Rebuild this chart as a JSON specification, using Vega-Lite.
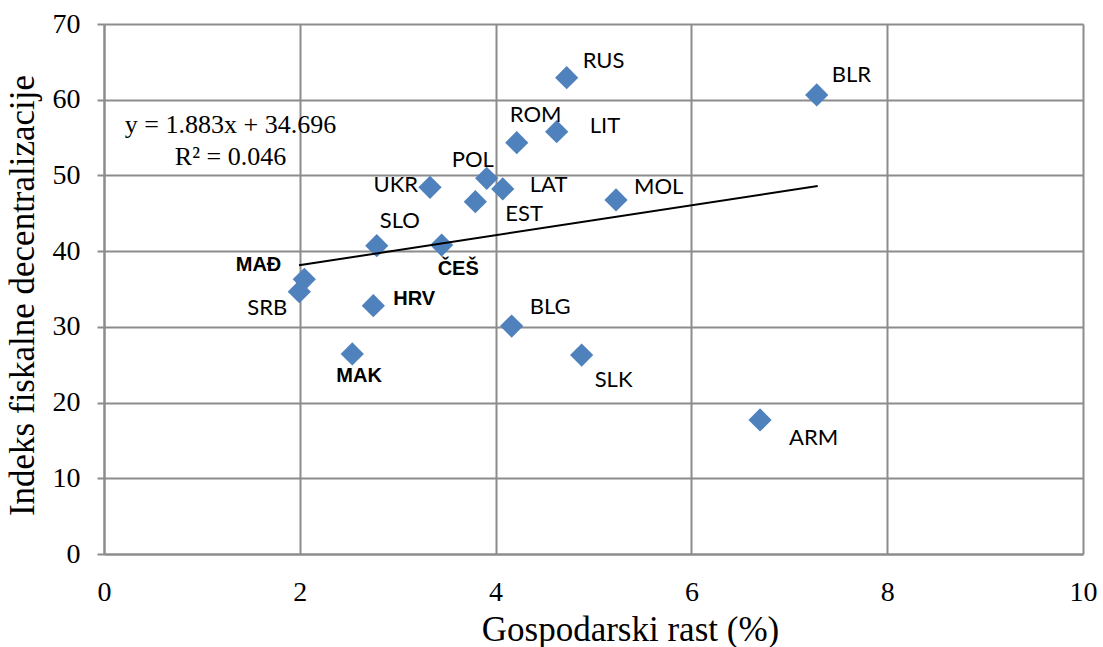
{
  "$schema": "https://vega.github.io/schema/vega-lite/v6.json",
  "autosize": {"type": "none"},
  "width": 979,
  "height": 530,
  "padding": {"left": 104, "top": 24, "right": 20, "bottom": 93},
  "background": "white",
  "config": {"view": {"stroke": null}},
  "datasets": {
    "pts": [
      {"c": "RUS", "x": 4.726, "y": 62.91},
      {"c": "BLR", "x": 7.28, "y": 60.63},
      {"c": "ROM", "x": 4.216, "y": 54.33},
      {"c": "LIT", "x": 4.624, "y": 55.78},
      {"c": "POL", "x": 3.909, "y": 49.62},
      {"c": "UKR", "x": 3.33, "y": 48.43},
      {"c": "LAT", "x": 4.073, "y": 48.21},
      {"c": "EST", "x": 3.793, "y": 46.53},
      {"c": "MOL", "x": 5.23, "y": 46.76},
      {"c": "SLO", "x": 2.786, "y": 40.72},
      {"c": "ČEŠ", "x": 3.449, "y": 40.81},
      {"c": "MAĐ", "x": 2.046, "y": 36.28},
      {"c": "SRB", "x": 1.995, "y": 34.65},
      {"c": "HRV", "x": 2.751, "y": 32.8},
      {"c": "BLG", "x": 4.164, "y": 30.11},
      {"c": "MAK", "x": 2.536, "y": 26.42},
      {"c": "SLK", "x": 4.879, "y": 26.28},
      {"c": "ARM", "x": 6.701, "y": 17.7}
    ],
    "trend": [
      {"x": 1.992, "y": 38.13},
      {"x": 7.29, "y": 48.61}
    ],
    "eq": [
      {"x": 1.292, "y": 55.57, "t": "y = 1.883x + 34.696"},
      {"x": 1.292, "y": 51.38, "t": "R² = 0.046"}
    ]
  },
  "encoding": {
    "x": {
      "field": "x", "type": "quantitative",
      "scale": {"domain": [0, 10], "nice": false, "zero": false},
      "axis": {
        "title": "Gospodarski rast (%)",
        "values": [0, 2, 4, 6, 8, 10],
        "grid": true, "gridColor": "#8c8c8c", "gridWidth": 2, "gridOpacity": 1,
        "domain": true, "domainColor": "#8c8c8c", "domainWidth": 2,
        "ticks": false, "tickSize": 0,
        "labelFont": "Liberation Serif", "labelFontSize": 28, "labelColor": "black",
        "labelPadding": 24, "labelBaseline": "top", "labelFlush": false,
        "titleFont": "Liberation Serif", "titleFontSize": 35, "titleFontWeight": "normal", "titleColor": "black",
        "titleX": 526, "titleY": 86, "titleBaseline": "alphabetic", "titleAlign": "center"
      }
    },
    "y": {
      "field": "y", "type": "quantitative",
      "scale": {"domain": [0, 70], "nice": false, "zero": false},
      "axis": {
        "title": "Indeks fiskalne decentralizacije",
        "values": [0, 10, 20, 30, 40, 50, 60, 70],
        "grid": true, "gridColor": "#8c8c8c", "gridWidth": 2, "gridOpacity": 1,
        "domain": true, "domainColor": "#8c8c8c", "domainWidth": 2,
        "ticks": true, "tickSize": 7, "tickColor": "#8c8c8c", "tickWidth": 2,
        "labelFont": "Liberation Serif", "labelFontSize": 28, "labelColor": "black",
        "labelPadding": 17, "labelAlign": "right", "labelBaseline": "middle", "labelFlush": false,
        "titleFont": "Liberation Serif", "titleFontSize": 35, "titleFontWeight": "normal", "titleColor": "black",
        "titleX": -71, "titleY": 271, "titleAngle": -90, "titleAlign": "center", "titleBaseline": "alphabetic"
      }
    }
  },
  "layer": [
    {
      "data": {"name": "pts"},
      "mark": {"type": "point", "shape": "diamond", "filled": true, "size": 540, "color": "#4F81BD", "opacity": 1}
    },
    {
      "data": {"name": "trend"},
      "mark": {"type": "line", "color": "black", "strokeWidth": 2}
    },
    {
      "data": {"name": "eq"},
      "mark": {"type": "text", "font": "Liberation Serif", "fontSize": 26, "align": "center", "baseline": "alphabetic", "color": "black"},
      "encoding": {"text": {"field": "t"}}
    },
    {
      "data": {"name": "pts"},
      "encoding": {"text": {"field": "c"}},
      "layer": [
        {"transform": [{"filter": "datum.c === 'RUS'"}], "mark": {"type": "text", "font": "Lato", "fontSize": 22, "align": "left", "baseline": "middle", "dx": 16, "dy": -17, "color": "black"}},
        {"transform": [{"filter": "datum.c === 'BLR'"}], "mark": {"type": "text", "font": "Lato", "fontSize": 22, "align": "left", "baseline": "middle", "dx": 15, "dy": -20, "color": "black"}},
        {"transform": [{"filter": "datum.c === 'ROM'"}], "mark": {"type": "text", "font": "Lato", "fontSize": 22, "align": "left", "baseline": "middle", "dx": -7, "dy": -28, "color": "black"}},
        {"transform": [{"filter": "datum.c === 'LIT'"}], "mark": {"type": "text", "font": "Lato", "fontSize": 22, "align": "left", "baseline": "middle", "dx": 33, "dy": -6, "color": "black"}},
        {"transform": [{"filter": "datum.c === 'POL'"}], "mark": {"type": "text", "font": "Lato", "fontSize": 22, "align": "left", "baseline": "middle", "dx": -35, "dy": -18, "color": "black"}},
        {"transform": [{"filter": "datum.c === 'UKR'"}], "mark": {"type": "text", "font": "Lato", "fontSize": 22, "align": "right", "baseline": "middle", "dx": -12, "dy": -2, "color": "black"}},
        {"transform": [{"filter": "datum.c === 'LAT'"}], "mark": {"type": "text", "font": "Lato", "fontSize": 22, "align": "left", "baseline": "middle", "dx": 27, "dy": -4, "color": "black"}},
        {"transform": [{"filter": "datum.c === 'EST'"}], "mark": {"type": "text", "font": "Lato", "fontSize": 22, "align": "left", "baseline": "middle", "dx": 30, "dy": 12, "color": "black"}},
        {"transform": [{"filter": "datum.c === 'MOL'"}], "mark": {"type": "text", "font": "Lato", "fontSize": 22, "align": "left", "baseline": "middle", "dx": 18, "dy": -13, "color": "black"}},
        {"transform": [{"filter": "datum.c === 'SLO'"}], "mark": {"type": "text", "font": "Lato", "fontSize": 22, "align": "left", "baseline": "middle", "dx": 3, "dy": -25, "color": "black"}},
        {"transform": [{"filter": "datum.c === 'SRB'"}], "mark": {"type": "text", "font": "Lato", "fontSize": 22, "align": "right", "baseline": "middle", "dx": -12, "dy": 16, "color": "black"}},
        {"transform": [{"filter": "datum.c === 'BLG'"}], "mark": {"type": "text", "font": "Lato", "fontSize": 22, "align": "left", "baseline": "middle", "dx": 18, "dy": -19, "color": "black"}},
        {"transform": [{"filter": "datum.c === 'SLK'"}], "mark": {"type": "text", "font": "Lato", "fontSize": 22, "align": "left", "baseline": "middle", "dx": 13, "dy": 25, "color": "black"}},
        {"transform": [{"filter": "datum.c === 'ARM'"}], "mark": {"type": "text", "font": "Lato", "fontSize": 22, "align": "left", "baseline": "middle", "dx": 29, "dy": 18, "color": "black"}},
        {"transform": [{"filter": "datum.c === 'ČEŠ'"}], "mark": {"type": "text", "font": "Liberation Sans", "fontWeight": "bold", "fontSize": 20, "align": "left", "baseline": "middle", "dx": -4, "dy": 24, "color": "black"}},
        {"transform": [{"filter": "datum.c === 'MAĐ'"}], "mark": {"type": "text", "font": "Liberation Sans", "fontWeight": "bold", "fontSize": 20, "align": "right", "baseline": "middle", "dx": -23, "dy": -14, "color": "black"}},
        {"transform": [{"filter": "datum.c === 'HRV'"}], "mark": {"type": "text", "font": "Liberation Sans", "fontWeight": "bold", "fontSize": 20, "align": "left", "baseline": "middle", "dx": 20, "dy": -7, "color": "black"}},
        {"transform": [{"filter": "datum.c === 'MAK'"}], "mark": {"type": "text", "font": "Liberation Sans", "fontWeight": "bold", "fontSize": 20, "align": "left", "baseline": "middle", "dx": -16, "dy": 22, "color": "black"}}
      ]
    }
  ]
}
